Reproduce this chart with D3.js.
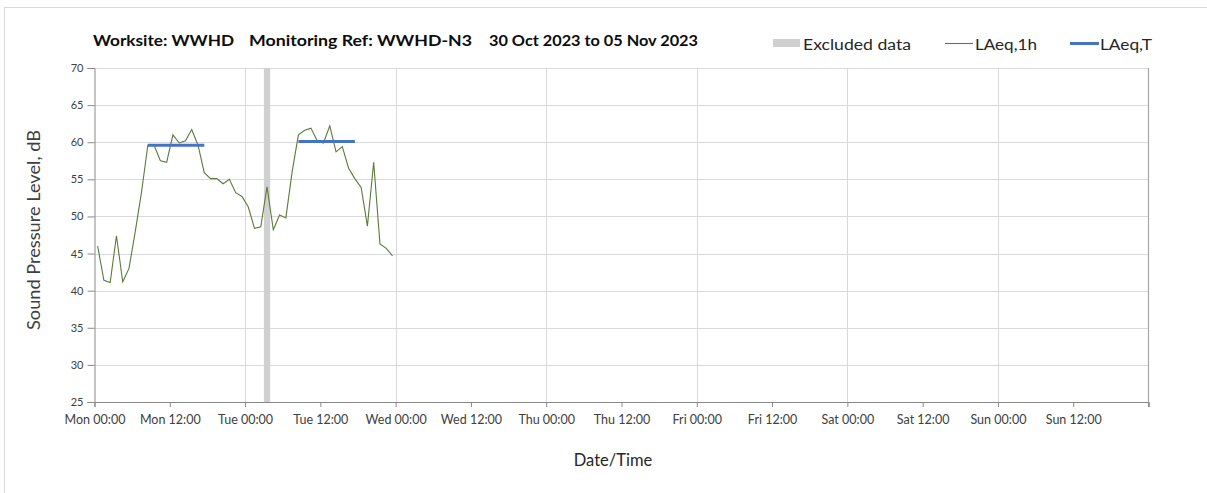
<!DOCTYPE html>
<html>
<head>
<meta charset="utf-8">
<script src="https://cdn.jsdelivr.net/npm/d3@7"></script>
<style>
  html, body { margin: 0; padding: 0; background: #fff; }
  svg { display: block; }
  text { font-family: Lato, "Open Sans", sans-serif; }
</style>
</head>
<body>
<svg id="chart" width="1207" height="493"></svg>
<script>
// ---------- data ----------
const titleParts = ["Worksite: WWHD", "Monitoring Ref: WWHD-N3", "30 Oct 2023 to 05 Nov 2023"];
const periodStart = "2023-10-30T00:00:00";
const periodEnd = "2023-11-06T00:00:00";
// hourly LAeq,1h values, Mon 00:00 onwards (one per hour, plotted at mid-hour)
const laeq1h = [
  46.0, 41.4, 41.1, 47.4, 41.2, 43.0, 48.0, 53.3, 59.6, 59.6, 57.5, 57.3,
  61.0, 59.9, 60.2, 61.7, 59.6, 55.9, 55.1, 55.1, 54.4, 55.0, 53.2, 52.7,
  51.3, 48.4, 48.6, 54.0, 48.2, 50.2, 49.8, 56.0, 61.0, 61.6, 61.9, 60.2,
  59.9, 62.2, 58.7, 59.4, 56.5, 55.1, 53.9, 48.7, 57.3, 46.3, 45.7, 44.7
];
const laeqT = [
  { start: "2023-10-30T08:30:00", end: "2023-10-30T17:30:00", value: 59.6 },
  { start: "2023-10-31T08:30:00", end: "2023-10-31T17:30:00", value: 60.1 }
];
const excluded = [
  { start: "2023-10-31T03:00:00", end: "2023-10-31T04:00:00" }
];
const yTicks = [25, 30, 35, 40, 45, 50, 55, 60, 65, 70];
const legendItems = ["Excluded data", "LAeq,1h", "LAeq,T"];
const yTitle = "Sound Pressure Level, dB";
const xTitle = "Date/Time";

// ---------- layout ----------
const svg = d3.select("#chart");
const L = 94.5, R = 1148.5, T = 68, B = 402;
const parse = s => new Date(s);
const t0 = parse(periodStart);
const series = laeq1h.map((v, i) => ({ t: d3.timeMinute.offset(d3.timeHour.offset(t0, i), 30), v }));

const x = d3.scaleTime().domain([parse(periodStart), parse(periodEnd)]).range([L, R]);
const y = d3.scaleLinear().domain([25, 70]).range([B, T]);

// outer border
svg.append("rect").attr("x", 4.5).attr("y", 7.5).attr("width", 1220).attr("height", 520)
  .attr("fill", "none").attr("stroke", "#d9d9d9").attr("stroke-width", 1);

// gridlines horizontal
svg.append("g").selectAll("line").data(yTicks.filter(d => d > 25)).join("line")
  .attr("x1", L).attr("x2", R).attr("y1", d => Math.round(y(d)) + 0.5).attr("y2", d => Math.round(y(d)) + 0.5)
  .attr("stroke", "#d9d9d9").attr("stroke-width", 1);

// gridlines vertical (daily)
const dayTicks = d3.timeDay.range(d3.timeDay.offset(t0, 1), parse(periodEnd));
svg.append("g").selectAll("line").data(dayTicks).join("line")
  .attr("x1", d => Math.round(x(d)) + 0.5).attr("x2", d => Math.round(x(d)) + 0.5)
  .attr("y1", T).attr("y2", B)
  .attr("stroke", "#d9d9d9").attr("stroke-width", 1);

// excluded bands
svg.append("g").selectAll("rect").data(excluded).join("rect")
  .attr("x", d => x(parse(d.start))).attr("width", d => x(parse(d.end)) - x(parse(d.start)))
  .attr("y", T).attr("height", B - T).attr("fill", "#d0d0d0");

// right border
svg.append("line").attr("x1", R).attr("x2", R).attr("y1", T).attr("y2", B + 5)
  .attr("stroke", "#a6a6a6").attr("stroke-width", 1.2);

// y axis
const yAxis = svg.append("g").attr("transform", `translate(${L},0)`)
  .call(d3.axisLeft(y).tickValues(yTicks).tickSize(7).tickPadding(4).tickFormat(d3.format("d")));
yAxis.select(".domain").attr("stroke", "#898989");
yAxis.selectAll(".tick line").attr("stroke", "#898989");
yAxis.selectAll(".tick text").attr("fill", "#404040").style("font-size", "11px").style("font-family", "Lato");

// x axis
const xAxis = svg.append("g").attr("transform", `translate(0,${B})`)
  .call(d3.axisBottom(x).ticks(d3.timeHour.every(12)).tickSize(5).tickPadding(8)
    .tickFormat(d3.timeFormat("%a %H:%M")));
xAxis.select(".domain").attr("stroke", "#898989");
xAxis.selectAll(".tick line").attr("stroke", "#898989");
xAxis.selectAll(".tick text").attr("fill", "#404040").style("font-size", "12.5px").style("font-family", "Lato");
xAxis.selectAll(".tick").filter(d => +d === +parse(periodEnd)).select("text").remove();

// LAeq,1h line
svg.append("path").datum(series)
  .attr("d", d3.line().x(d => x(d.t)).y(d => y(d.v)))
  .attr("fill", "none").attr("stroke", "#5b7a3c").attr("stroke-width", 1.1);

// LAeq,T lines
svg.append("g").selectAll("line").data(laeqT).join("line")
  .attr("x1", d => x(parse(d.start))).attr("x2", d => x(parse(d.end)))
  .attr("y1", d => y(d.value)).attr("y2", d => y(d.value))
  .attr("stroke", "#4472c4").attr("stroke-width", 3);

// title
const titleX = [93, 249, 489], titleW = [141, 223, 209];
svg.append("g").selectAll("text").data(titleParts).join("text")
  .attr("x", (d, i) => titleX[i]).attr("y", 46)
  .attr("textLength", (d, i) => titleW[i]).attr("lengthAdjust", "spacingAndGlyphs")
  .attr("fill", "#0d0d0d").style("font-size", "15px").style("font-weight", "bold")
  .text(d => d);

// legend
const lg = svg.append("g");
lg.append("rect").attr("x", 773).attr("y", 39).attr("width", 27).attr("height", 8).attr("fill", "#d0d0d0");
lg.append("line").attr("x1", 945).attr("x2", 973).attr("y1", 43.5).attr("y2", 43.5)
  .attr("stroke", "#5b7a3c").attr("stroke-width", 1.1);
lg.append("line").attr("x1", 1070).attr("x2", 1099).attr("y1", 43.5).attr("y2", 43.5)
  .attr("stroke", "#4472c4").attr("stroke-width", 3);
const legX = [803, 975, 1100], legW = [108, 62, 52];
lg.selectAll("text").data(legendItems).join("text")
  .attr("x", (d, i) => legX[i]).attr("y", 49.5)
  .attr("textLength", (d, i) => legW[i]).attr("lengthAdjust", "spacingAndGlyphs")
  .attr("fill", "#262626").style("font-size", "15.5px").text(d => d);

// axis titles
svg.append("text").attr("transform", "translate(40,230) rotate(-90)")
  .attr("text-anchor", "middle").attr("textLength", 200).attr("lengthAdjust", "spacingAndGlyphs")
  .attr("fill", "#404040").style("font-size", "16.5px").text(yTitle);
svg.append("text").attr("x", 613).attr("y", 466)
  .attr("text-anchor", "middle").attr("fill", "#262626").style("font-size", "16.5px").text(xTitle);
</script>
</body>
</html>
